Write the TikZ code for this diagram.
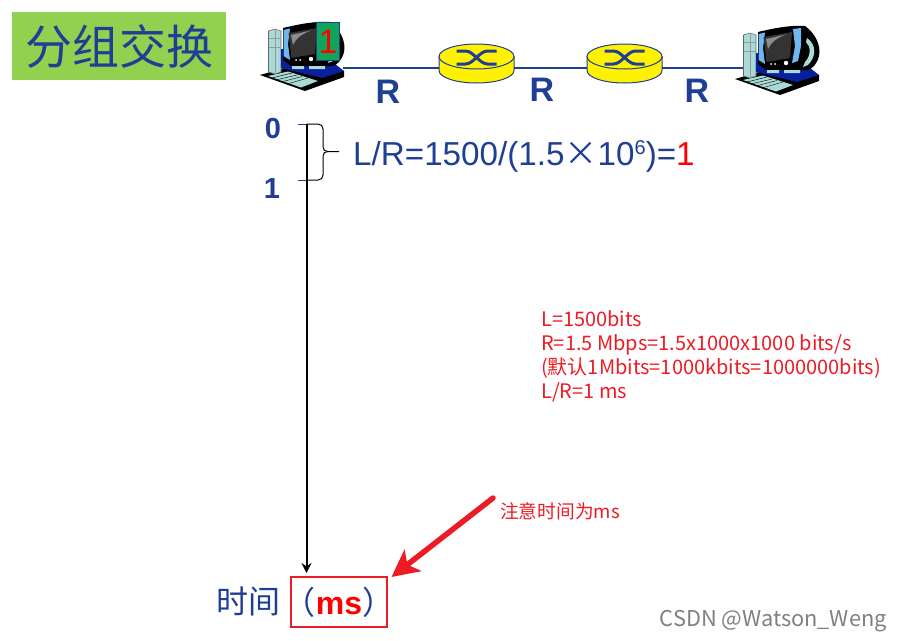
\documentclass[tikz,border=0pt]{standalone}
\usepackage{fontspec}
\usepackage{xcolor}
\usepackage{tikz}
\usetikzlibrary{arrows.meta,calc}
\setmainfont{Liberation Sans}
\newfontfamily\cjk{Noto Sans CJK SC}
\newcommand{\fs}[1]{\fontsize{#1}{#1}\selectfont}
\definecolor{navy}{HTML}{1F3F94}
\definecolor{redtxt}{HTML}{ED1C24}
\definecolor{grassgreen}{HTML}{92D050}
\definecolor{pktgreen}{HTML}{0FA65A}
\definecolor{towerteal}{HTML}{A9DAD8}
\definecolor{bezel}{HTML}{6FB7F0}
\definecolor{basenavy}{HTML}{0A1F9C}

\tikzset{
    router/.pic={
        \node[minimum width=75pt,minimum height=30pt,inner sep=0pt] (body) at (0,11.5) {};
        \draw[draw=navy,fill=yellow,line width=1pt] (-37.5,0) -- (-37.5,14) arc[start angle=180,end angle=0,x radius=37.5,y radius=12.5] -- (37.5,0) -- cycle;
        \draw[draw=navy,fill=yellow,line width=1pt] (0,0) ellipse[x radius=37.5,y radius=12.5];
        \draw[navy,line width=3pt] (-20,-5.5) -- (-11,-5.5) .. controls (-3,-5.5) and (3,7.5) .. (11,7.5) -- (20,7.5);
        \draw[navy,line width=3pt] (-20,7.5) -- (-11,7.5) .. controls (-3,7.5) and (3,-5.5) .. (11,-5.5) -- (20,-5.5);
    },
    computer/.pic={
        \node[minimum width=75pt,minimum height=20pt,inner sep=0pt] (body) at (305.5,66) {};
        % keyboard and desk shadow
        \fill[black] (260,75) -- (284,68) -- (344,71) -- (344,77) -- (305,91) -- cycle;
        % tower
        \draw[fill=towerteal,draw=black!60,line width=0.6pt] (268.5,31) -- (275,29) -- (281,31) -- (281,72) -- (275,74) -- (268.5,72) -- cycle;
        \draw[black!40,line width=0.4pt] (268.5,38) -- (281,38) (268.5,47) -- (281,47) (275,29) -- (275,74);
        % base
        \fill[basenavy] (281,49) -- (291,49) -- (291,64) -- (335,64) -- (344,71) -- (322,78) -- (281,68) -- cycle;
        % monitor
        \fill[black] (283,28) .. controls (300,24) and (315,21) .. (330,22) .. controls (341,30) and (346,42) .. (344,52) .. controls (342,60) and (338,64) .. (333,66) -- (291,66) -- (283,60) -- cycle;
        \fill[towerteal] (332,34) .. controls (341,40) and (342,52) .. (333,61) -- (328,63) -- (330,58) .. controls (336,52) and (336,42) .. (331,38) -- cycle;
        \fill[bezel] (283.5,30) -- (290,28.5) -- (288,44) -- (290,60) -- (283.5,56) -- cycle;
        \fill[bezel] (318,25) -- (326,24) -- (326,42) -- (323,57) -- (317,59) -- (320,42) -- cycle;
        \fill[black!80] (288.5,33) -- (317,28) -- (315,54) -- (291.5,58) -- cycle;
        \fill[black!45] (291,35) -- (311,30.5) .. controls (302,34) and (296,38) .. (293,45) -- cycle;
        \fill[white] (296,60) circle[radius=1] (300,60) circle[radius=1] (311,59) circle[radius=2.2];
        \fill[towerteal] (292,66) -- (304,66) -- (304,69) -- (292,69) -- cycle (309,66) -- (325,66) -- (325,69) -- (309,69) -- cycle;
        % keys
        \fill[towerteal] (268,76) -- (288,71.5) -- (318,81) -- (301,87.5) -- cycle;
        \draw[black,line width=0.4pt] (272,78) -- (292,73) (276,80) -- (297,75) (281,82) -- (302,76.5) (287,84) -- (308,78);
    }
}

\begin{document}
\begin{tikzpicture}[x=1pt,y=-1pt,line cap=butt]
    \tikzstyle{link}=[navy,line width=2pt]
    \tikzstyle{rate}=[navy,font=\fs{34}\bfseries,inner sep=0pt,anchor=base]
    \tikzstyle{tick}=[navy,font=\fs{29}\bfseries,inner sep=0pt,anchor=base]
    \useasboundingbox (0,0) rectangle (902,640);

    \node[fill=grassgreen,minimum width=214pt,minimum height=68pt,inner sep=0pt,text=navy,font=\cjk\fs{47}] (title) at (119,46) {分组交换};

    \pic (c1) at (0,0) {computer};
    \pic (c2) at (475,4) {computer};
    \foreach \x/\n in {476.5/r1,624.5/r2} {
        \pic (\n) at (\x,56.5) {router};
    };

    \node[draw=navy,fill=pktgreen,line width=1pt,minimum width=22.5pt,minimum height=38.5pt,inner sep=0pt,text=red,font=\fs{34}] (pkt) at (328,41.5) {1};

    \draw[link] (c1body.east |- r1body) -- (r1body);
    \draw[link] (r1body) -- (r2body);
    \draw[link] (r2body) -- (c2body.west |- r2body);

    \foreach \x/\y/\n in {388/103/ra,542/101/rb,697/102/rc} {
        \node[rate] (\n) at (\x,\y) {R};
    };

    \node[tick] (t0) at (273,138) {0};
    \node[tick] (t1) at (272,198) {1};
    \coordinate (a0) at (306.5,124);
    \coordinate (a1) at (306.5,180);
    \draw[navy,line width=1pt] (a0) ++(-9,0) -- (a0);
    \draw[navy,line width=1pt] (a1) ++(-9,0) -- (a1);
    \draw[black,line width=1pt] (a0) -- (318,124) .. controls (321,124) and (323,126) .. (323,129) -- (323,147) .. controls (323,150) and (325,151.5) .. (328,151.5) -- (339,151.5);
    \draw[black,line width=1pt] (a1) -- (318,180) .. controls (321,180) and (323,178) .. (323,175) -- (323,156) .. controls (323,153) and (325,151.5) .. (328,151.5);

    \node[navy,font=\fs{33.2},inner sep=0pt,anchor=base west] (eq) at (353,165) {L/R=1500/(1.5{\cjk ×}10\raisebox{11pt}{\fs{20}6})={\color{red}1}};

    \node[redtxt,anchor=north west,align=left,inner sep=0pt,font=\cjk\fontsize{20}{24}\selectfont] (params) at (541,310) {L=1500bits\\
        R=1.5 Mbps=1.5x1000x1000 bits/s\\
        (默认1Mbits=1000kbits=1000000bits)\\
        L/R=1 ms};

    \node[redtxt,font=\cjk\fs{18.7},inner sep=0pt,anchor=base west] (warn) at (500,518) {注意时间为ms};

    \node[navy,font=\cjk\fs{32},inner sep=0pt,anchor=base west] (time) at (216,613) {时间};
    \node[draw=redtxt,line width=2pt,minimum width=96pt,minimum height=50pt,inner sep=0pt,text=navy,font=\cjk\fs{32}] (unit) at (339,602) {\hbox to 90pt{\hss（\textcolor{red}{\fontspec{Liberation Sans}\bfseries ms}）\hss}};

    \draw[line width=2pt,-{Stealth[length=10pt,width=10pt]},shorten >=3pt] (a0) -- (a0 |- unit.north);

    \coordinate (tail) at (493,498);
    \draw[redtxt,line width=5.5pt,line cap=round,-{Stealth[length=27pt,width=27pt,inset=7pt]}] (tail) -- ($(unit.north east)+(3.5,1)$);

    \node[gray,font=\cjk\fs{21.8},inner sep=0pt,anchor=base east] (mark) at (887,626) {CSDN @Watson\_Weng};
\end{tikzpicture}
\end{document}
